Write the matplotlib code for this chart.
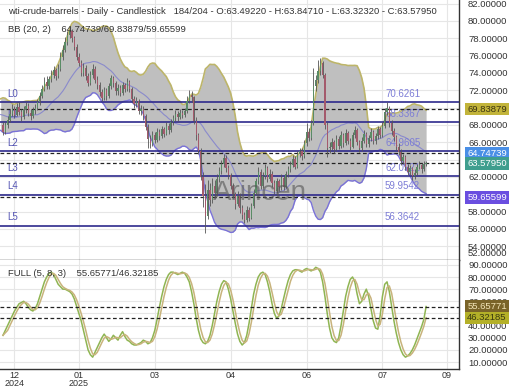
import numpy as np
import pandas as pd
import matplotlib
matplotlib.use("Agg")
from matplotlib import pyplot as plt
from matplotlib import transforms, ticker

plt.rcParams["font.family"] = ["Liberation Sans", "DejaVu Sans"]
plt.rcParams["font.size"] = 6.8

# sessions before the first visible bar (only used to warm up the BB)
warm_close = [68.5, 69.8, 70.6, 70.2, 71.0, 70.0, 68.3, 68.4, 68.6, 68.9,
              67.6, 69.2, 69.4, 68.9, 69.9, 70.5, 68.9, 68.7, 68.6, 68.0]

# visible daily bars 0..184
close = [67.2, 68.0, 68.6, 69.3, 69.9, 69.2, 70.1, 69.5, 68.9, 69.8,
         70.2, 69.4, 69.0, 69.7, 70.0, 70.6, 71.4, 72.2, 73.0, 72.5,
         73.3, 73.8, 74.3, 73.6, 74.5, 75.8, 76.6, 77.6, 78.4, 78.9,
         78.0, 77.0, 75.9, 75.2, 74.0, 74.6, 73.6, 72.9, 73.8, 74.5,
         73.2, 72.6, 71.8, 71.1, 72.0, 71.3, 72.5, 73.4, 72.8, 71.9,
         72.3, 71.7, 72.6, 72.1, 73.0, 72.2, 71.0, 70.4, 70.8, 69.6,
         69.9, 69.0, 67.8, 66.4, 65.8, 66.9, 66.3, 67.2, 66.7, 67.5,
         67.0, 67.9, 67.4, 68.3, 68.8, 69.3, 68.9, 69.4, 69.1, 69.6,
         70.8, 71.5, 71.2, 68.5, 66.8, 65.0, 62.0, 59.8, 57.5, 60.5,
         59.4, 61.0, 60.1, 61.8, 62.7, 63.5, 64.2, 63.0, 62.2, 61.0,
         60.0, 58.9, 59.8, 58.4, 57.6, 57.0, 58.2, 57.3, 58.6, 60.2,
         61.5, 62.6, 61.0, 62.1, 63.0, 61.8, 62.4, 61.3, 60.4, 61.5,
         60.8, 61.9, 60.9, 62.3, 62.9, 63.4, 64.1, 63.2, 64.6, 65.0,
         64.4, 65.9, 67.2, 66.5, 68.2, 72.5, 73.2, 74.2, 75.1, 73.8,
         68.0, 65.3, 65.5, 66.0, 65.2, 66.4, 65.6, 66.9, 65.9, 67.1,
         66.2, 65.5, 66.8, 67.4, 66.0, 65.3, 66.2, 67.0, 65.8, 66.5,
         67.2, 66.1, 66.7, 67.5, 66.9, 67.9, 69.5, 70.0, 68.2, 67.3,
         66.6, 65.5, 64.9, 63.8, 64.3, 63.2, 62.6, 63.0, 62.1, 62.5,
         63.1, 63.4, 62.9, 63.4922, 63.5795]
high = [68.3, 68.4, 69.0, 69.8, 70.4, 70.2, 70.5, 70.6, 69.9, 70.2,
        70.7, 70.5, 69.8, 70.1, 70.4, 71.0, 71.8, 72.6, 73.5, 73.6,
        73.7, 74.3, 74.8, 74.6, 75.0, 76.4, 77.2, 78.2, 78.9, 79.4,
        79.1, 78.3, 77.3, 76.3, 75.5, 75.2, 74.9, 74.0, 74.2, 75.0,
        74.8, 73.6, 73.0, 72.2, 72.4, 72.3, 72.9, 73.8, 73.7, 73.1,
        72.7, 72.6, 73.0, 72.9, 73.4, 73.2, 72.4, 71.3, 71.2, 71.0,
        70.3, 70.2, 69.3, 68.1, 66.8, 67.3, 67.2, 67.6, 67.5, 67.9,
        67.8, 68.3, 68.2, 68.7, 69.2, 69.7, 69.6, 69.8, 69.7, 70.0,
        71.3, 72.0, 71.9, 71.4, 68.9, 67.1, 65.3, 62.6, 61.2, 61.6,
        61.3, 61.9, 61.6, 62.3, 63.2, 64.0, 64.6, 64.5, 63.4, 62.5,
        61.3, 60.3, 60.4, 60.1, 58.8, 58.0, 58.7, 58.5, 59.0, 60.6,
        61.9, 63.1, 62.9, 62.6, 63.5, 63.3, 62.9, 62.7, 61.6, 61.9,
        61.8, 62.3, 62.1, 62.7, 63.3, 63.8, 64.5, 64.4, 65.0, 65.4,
        65.3, 66.3, 68.2, 67.6, 68.6, 74.6, 73.8, 75.5, 75.7, 75.4,
        74.0, 68.4, 66.0, 66.5, 66.3, 66.8, 66.7, 67.3, 67.1, 67.5,
        67.3, 66.5, 67.2, 67.9, 67.6, 66.3, 66.6, 67.4, 67.2, 66.9,
        67.6, 67.4, 67.1, 67.9, 67.8, 68.3, 70.0, 70.63, 70.2, 68.6,
        67.7, 66.9, 65.9, 65.2, 64.7, 64.5, 63.5, 63.4, 63.2, 62.9,
        63.5, 63.8, 63.6, 63.8, 63.8471]
low = [66.8, 67.0, 67.7, 68.4, 69.0, 68.8, 69.0, 69.2, 68.5, 68.7,
       69.4, 69.0, 68.6, 68.8, 69.3, 69.7, 70.3, 71.1, 71.9, 72.1,
       72.2, 73.0, 73.4, 73.2, 73.4, 74.2, 75.5, 76.4, 77.2, 78.0,
       77.6, 76.6, 75.5, 74.8, 73.6, 73.7, 73.2, 72.5, 72.6, 73.4,
       72.9, 72.2, 71.4, 70.8, 70.9, 70.9, 71.1, 72.2, 72.4, 71.5,
       71.5, 71.3, 71.5, 71.8, 71.9, 71.8, 70.7, 70.0, 70.1, 69.3,
       69.2, 68.6, 67.4, 65.3, 65.4, 65.6, 65.9, 66.0, 66.3, 66.5,
       66.6, 66.8, 67.0, 67.2, 68.0, 68.5, 68.5, 68.7, 68.8, 68.9,
       69.4, 70.5, 70.7, 68.1, 66.3, 64.6, 61.6, 58.5, 55.5, 57.1,
       58.6, 59.0, 59.6, 59.8, 61.4, 62.3, 63.1, 62.6, 61.8, 60.6,
       59.6, 58.3, 58.6, 57.9, 57.1, 56.7, 56.8, 56.9, 57.1, 58.4,
       59.9, 61.2, 60.6, 60.7, 61.8, 61.4, 61.5, 60.9, 60.0, 60.1,
       60.4, 60.5, 60.5, 60.7, 62.0, 62.6, 63.1, 62.9, 63.0, 64.3,
       64.0, 64.2, 65.6, 66.1, 66.3, 68.0, 71.9, 72.9, 73.8, 73.4,
       67.5, 64.3, 64.8, 65.1, 64.8, 65.0, 65.2, 65.4, 65.5, 65.7,
       65.8, 65.1, 65.3, 66.5, 65.7, 64.9, 65.0, 65.9, 65.5, 65.5,
       66.2, 65.8, 65.8, 66.4, 66.5, 66.6, 67.7, 69.1, 67.8, 66.9,
       66.2, 65.1, 64.5, 63.4, 63.5, 62.8, 62.2, 62.2, 61.7, 61.8,
       62.2, 62.9, 62.5, 62.7, 63.3232]

# full stochastic %K
stoch_k_line = [32, 36, 40, 44, 48, 52, 55, 58, 59, 60,
                58, 55, 53, 52, 54, 58, 64, 70, 76, 80,
                83, 84, 82, 78, 74, 72, 70, 70, 69, 68,
                66, 62, 56, 50, 44, 36, 28, 20, 16, 14,
                18, 22, 26, 30, 33, 30, 27, 29, 32, 30,
                28, 32, 35, 31, 28, 27, 25, 24, 24, 25,
                26, 28, 27, 25, 26, 30, 36, 45, 55, 64,
                72, 78, 82, 84, 84, 83, 82, 83, 84, 83,
                80, 76, 68, 58, 46, 36, 29, 26, 25, 27,
                32, 40, 50, 60, 68, 74, 77, 76, 70, 62,
                52, 42, 33, 27, 24, 26, 32, 42, 54, 66,
                74, 80, 83, 84, 82, 76, 68, 58, 50, 46,
                48, 54, 62, 70, 77, 82, 85, 86, 86, 85,
                84, 86, 87, 86, 85, 86, 88, 87, 84, 76,
                64, 50, 38, 30, 27, 26, 30, 40, 52, 64,
                72, 78, 80, 76, 66, 58, 60, 66, 70, 64,
                54, 44, 38, 37, 48, 64, 74, 76, 68, 56,
                44, 34, 26, 20, 16, 14, 15, 17, 20, 24,
                29, 34, 39, 45, 55.65771]

levels = [70.6261, 68.3367, 64.9605, 62.0921, 59.9542, 56.3642]
level_names = ["L0", "L1", "L2", "L3", "L4", "L5"]

bb_mid, bb_up, bb_low = 64.74739, 69.83879, 59.65599
stoch_k, stoch_d = 55.65771, 46.32185

tick_bars = [5, 33, 66, 99, 132, 165, 193]
tick_labels = ["12\n2024", "01\n2025", "03", "04", "06", "07", "09"]

header = ("wti-crude-barrels - Daily - Candlestick   184/204 - O:63.49220 - "
          "H:63.84710 - L:63.32320 - C:63.57950")

# ---- indicators ----
n_warm = len(warm_close)
c_all = pd.Series(warm_close + close)
x_all = np.arange(len(c_all)) - n_warm
mid = c_all.rolling(20).mean()
sd = c_all.rolling(20).std(ddof=0)
upper = mid + 2 * sd
lower = mid - 2 * sd

k_line = pd.Series(stoch_k_line)
d_line = k_line.rolling(3, min_periods=1).mean()

x = np.arange(len(close))
c = np.array(close)
o = np.r_[warm_close[-1], c[:-1]]
h = np.array(high)
l = np.array(low)

# ---- figure ----
W, H = 520, 390
fig = plt.figure(figsize=(W / 100, H / 100), dpi=100)
ax = fig.add_axes([0, 1 - 260 / H, 459 / W, 260 / H])
ax2 = fig.add_axes([0, 1 - 369 / H, 459 / W, 109 / H], sharex=ax)

ax.set_xlim(-1.3, 198.3)
ax.set_ylim(52.42, 82.42)
ax2.set_ylim(4.24, 94.0)

for a in (ax, ax2):
    a.set_facecolor("white")
    a.grid(True, color="#e6e6e6", lw=0.8)
    a.set_axisbelow(True)
    a.yaxis.tick_right()
    a.tick_params(axis="y", length=0, pad=6.5, labelsize=6.8, colors="#333333")
    for s in ("left", "top"):
        a.spines[s].set_visible(False)
    for s in ("right", "bottom"):
        a.spines[s].set_color("#333333")
        a.spines[s].set_linewidth(1.0)


def fmt_hiding(hidden):
    # labels that sit under the value tags are not visible in the chart
    return ticker.FuncFormatter(
        lambda v, p: "" if any(abs(v - hv) < 1e-6 for hv in hidden) else f"{v:.5f}")


ax.set_yticks(np.arange(54, 83, 2))
ax.yaxis.set_major_formatter(fmt_hiding([70, 64]))
ax2.set_yticks(np.arange(10, 91, 10))
ax2.yaxis.set_major_formatter(fmt_hiding([50]))
ax2.set_xticks(tick_bars)
ax2.set_xticklabels(tick_labels, linespacing=0.9)
ax2.tick_params(axis="x", length=0, pad=1.5, labelsize=6.5, colors="#333333")
ax.tick_params(axis="x", length=0, labelbottom=False)

# Bollinger band
ax.fill_between(x_all, lower, upper, color="#bfbfbf", lw=0, zorder=1)
ax.plot(x_all, upper, color="#bdb56a", lw=1.2, zorder=2)
ax.plot(x_all, lower, color="#7a72d8", lw=1.0, zorder=2)
ax.plot(x_all, mid, color="#8a8acc", lw=0.8, zorder=2)

# support / resistance levels
tr = transforms.blended_transform_factory(ax.transAxes, ax.transData)
for name, lv in zip(level_names, levels):
    ax.axhline(lv, color="#2e2a8c", lw=1.2, zorder=3)
    ax.annotate(name, (0.015, lv), xycoords=tr, xytext=(0, 2.5),
                textcoords="offset points", va="bottom", ha="left",
                fontsize=7, color="#5656b4", zorder=3)
    ax.annotate(f"{lv:.4f}", (385 / 459, lv), xycoords=tr, xytext=(0, 2.5),
                textcoords="offset points", va="bottom", ha="left",
                fontsize=7, color="#7d7dd6", zorder=3)

for v in (bb_up, bb_mid, c[-1], bb_low):
    ax.axhline(v, color="#222222", lw=0.9, ls=(0, (3, 2)), zorder=3.5)

# candles
up = c >= o
ax.vlines(x, l, h, color="#555555", lw=0.6, zorder=4)
ax.bar(x, np.maximum(np.abs(c - o), 0.08), bottom=np.minimum(o, c), width=0.55,
       color=np.where(up, "#5a8c66", "#a45a6c"), lw=0, zorder=5)

ax.text(260 / 459, 1 - 193 / 260, "Arincen", transform=ax.transAxes,
        fontsize=20, color="#555555", alpha=0.6, ha="center", va="center",
        zorder=6)

# stochastic
ax2.plot(x, k_line, color="#8fb552", lw=1.1, zorder=3)
ax2.plot(x, d_line, color="#c8b37c", lw=1.1, zorder=3)
for v in (stoch_k, stoch_d):
    ax2.axhline(v, color="#222222", lw=0.9, ls=(0, (3, 2)), zorder=3.5)


def value_tag(a, y, text, fc, tc):
    t = transforms.blended_transform_factory(a.transAxes, a.transData)
    a.text(1.018, y, text, transform=t, ha="left", va="center", fontsize=6.8,
           color=tc, clip_on=False, zorder=10,
           bbox=dict(boxstyle="square,pad=0.2", fc=fc, ec="none"))


value_tag(ax, bb_up, f"{bb_up:.5f}", "#c2b43a", "#3a3310")
value_tag(ax, bb_mid, f"{bb_mid:.5f}", "#4a8fe6", "white")
value_tag(ax, c[-1], f"{c[-1]:.5f}", "#3f9e8e", "white")
value_tag(ax, bb_low, f"{bb_low:.5f}", "#6a4ee0", "white")
value_tag(ax2, stoch_k, f"{stoch_k:.5f}", "#7a6428", "#f3e6b8")
value_tag(ax2, stoch_d, f"{stoch_d:.5f}", "#b4b028", "#3a3a10")

fig.text(468 / W, 1 - 253 / H, "52.00000", fontsize=6.8, color="#333333",
         va="center", ha="left")

fig.text(8 / W, 1 - 11 / H, header, fontsize=6.8, color="#333333", va="center")
fig.text(8 / W, 1 - 30 / H,
         f"BB (20, 2)    {bb_mid:.5f}/{bb_up:.5f}/{bb_low:.5f}",
         fontsize=6.8, color="#333333", va="center")
fig.text(8 / W, 1 - 273 / H, f"FULL (5, 8, 3)    {stoch_k:.5f}/{stoch_d:.5f}",
         fontsize=6.8, color="#333333", va="center")

fig.savefig("out.png", dpi=100)
